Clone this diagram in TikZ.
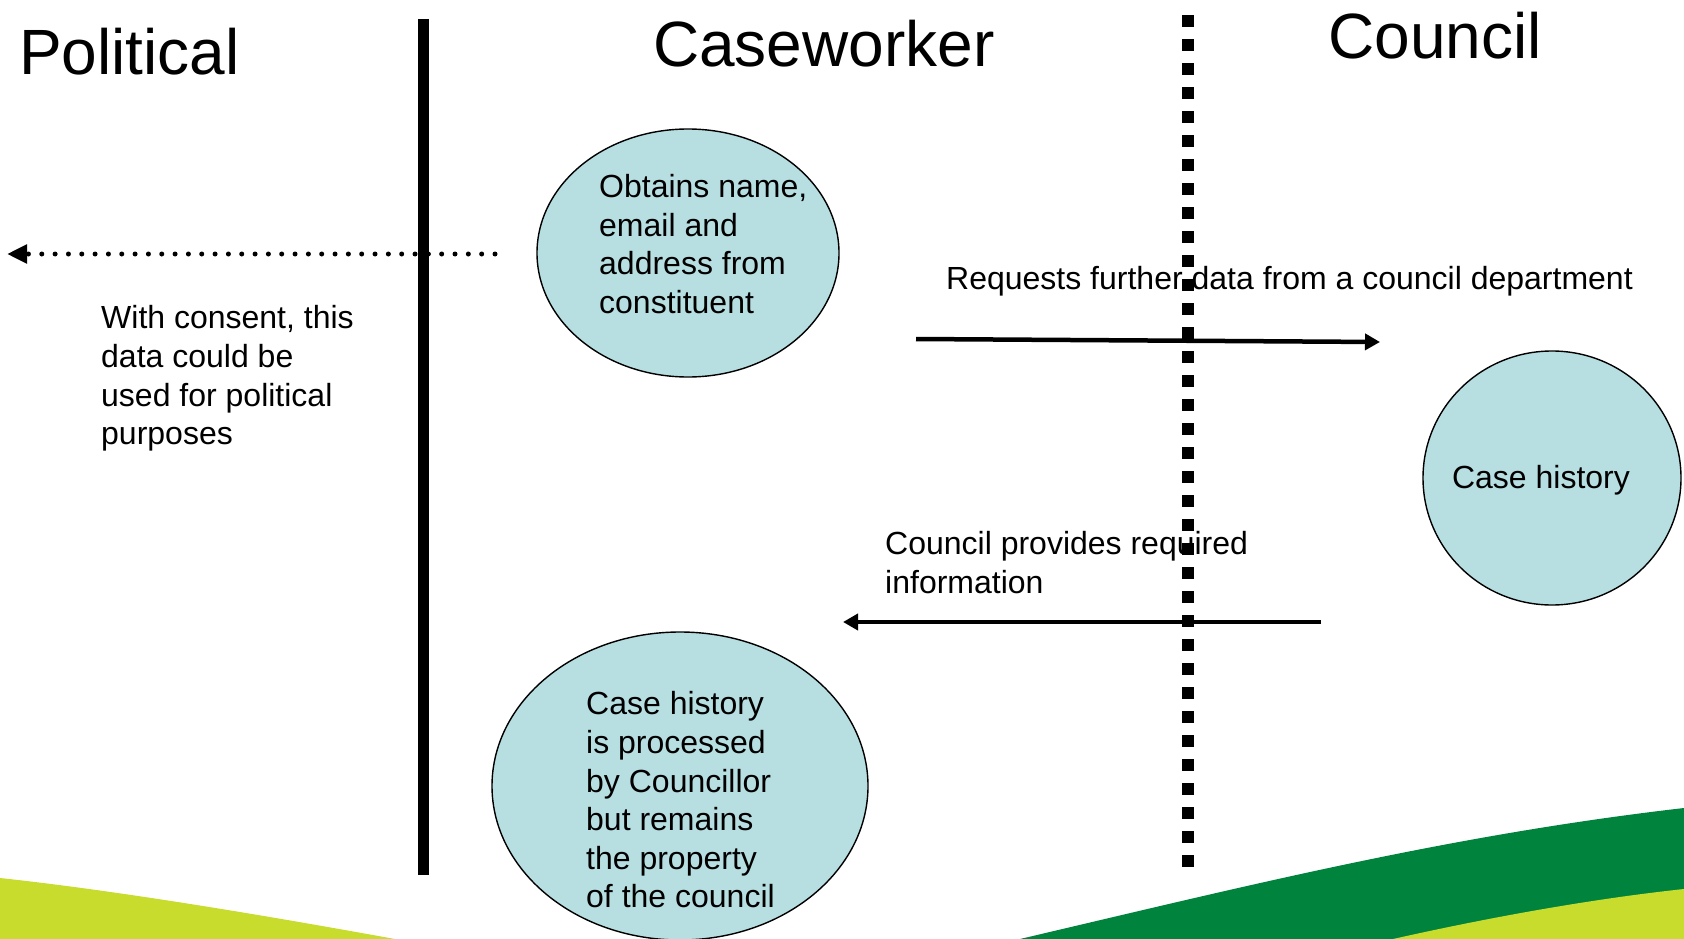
\documentclass[tikz,border=0pt]{standalone}
\usepackage{fontspec}
\setmainfont{Liberation Sans}
\usetikzlibrary{
  arrows.meta,
  positioning,
  shapes.geometric
}
\definecolor{CWteal}{HTML}{B7DFE2}
\definecolor{CWgreen}{HTML}{00843D}
\definecolor{CWlime}{HTML}{C8DC2E}

\begin{document}
\begin{tikzpicture}[
      x=1pt, y=-1pt,
      title/.style={anchor=base west, inner sep=0pt,
        font=\fontsize{64}{77}\selectfont},
      bodytxt/.style={anchor=west, align=left, inner sep=0pt,
        font=\fontsize{32}{38.6}\selectfont},
      bubble/.style={ellipse, draw=black, line width=1.4pt,
        fill=CWteal, inner sep=0pt},
      flowarr/.style={-{Triangle[length=15pt,width=16pt]}, line width=4.5pt},
      consentarr/.style={-{Triangle[length=20pt,width=18pt]}, line width=5pt,
        line cap=round, dash pattern=on 0pt off 13.33pt}
    ]
    \useasboundingbox (0,0) rectangle (1684,939);

    % Green swooshes along the bottom
    \fill[CWlime] (0,878) .. controls (130,892) and (290,920) .. (395,939)
      -- (0,939) -- cycle;
    \fill[CWgreen] (1020,939) .. controls (1250,885) and (1450,835) .. (1684,808)
      -- (1684,939) -- cycle;
    \fill[CWlime] (1393,939) .. controls (1500,915) and (1600,898) .. (1684,889)
      -- (1684,939) -- cycle;

    % Column headings
    \node[title] (polit) at (19,75)   {Political};
    \node[title] (casew) at (653,67)  {Caseworker};
    \node[title] (counc) at (1328,59) {Council};

    % Dividers: solid wall, then the dotted council boundary
    \coordinate (wallTop) at (423,19);
    \coordinate (wallBot) at (423,875);
    \draw[line width=11pt] (wallTop) -- (wallBot);

    \coordinate (fenceTop) at (1188,15);
    \coordinate (fenceBot) at (1188,867);
    \draw[line width=12pt, dash pattern=on 12pt off 12pt] (fenceTop) -- (fenceBot);

    % Bubbles
    \node[bubble, minimum width=302pt, minimum height=248pt] (obtain) at (688,253) {};
    \node[bubble, minimum width=258pt, minimum height=254pt] (history) at (1552,478) {};
    \node[bubble, minimum width=376pt, minimum height=308pt] (process) at (680,786) {};

    \node[bodytxt] (obtainTxt) at (599,244)
      {Obtains name,\\email and\\address from\\constituent};
    \node[bodytxt, anchor=center] (historyTxt) at (1541,480) {Case history};
    \node[bodytxt] (processTxt) at (586,800)
      {Case history\\is processed\\by Councillor\\but remains\\the property\\of the council};

    % Free-standing labels
    \node[bodytxt] (consentTxt) at (101,378.5)
      {With consent, this\\data could be\\used for political\\purposes};
    \node[bodytxt] (requestTxt) at (946,281)
      {Requests further data from a council department};
    \node[bodytxt] (provideTxt) at (885,562.5)
      {Council provides required\\information};

    % Arrows
    \coordinate (consentFrom) at (495,254);
    \coordinate (consentTo)   at (7,254);
    \draw[consentarr] (consentFrom) -- (consentTo);

    \coordinate (requestFrom) at (916,339);
    \coordinate (requestTo)   at (1380,342);
    \draw[flowarr] (requestFrom) -- (requestTo);

    \coordinate (provideFrom) at (1321,622);
    \coordinate (provideTo)   at (843,622);
    \draw[flowarr] (provideFrom) -- (provideTo);
  \end{tikzpicture}
\end{document}
